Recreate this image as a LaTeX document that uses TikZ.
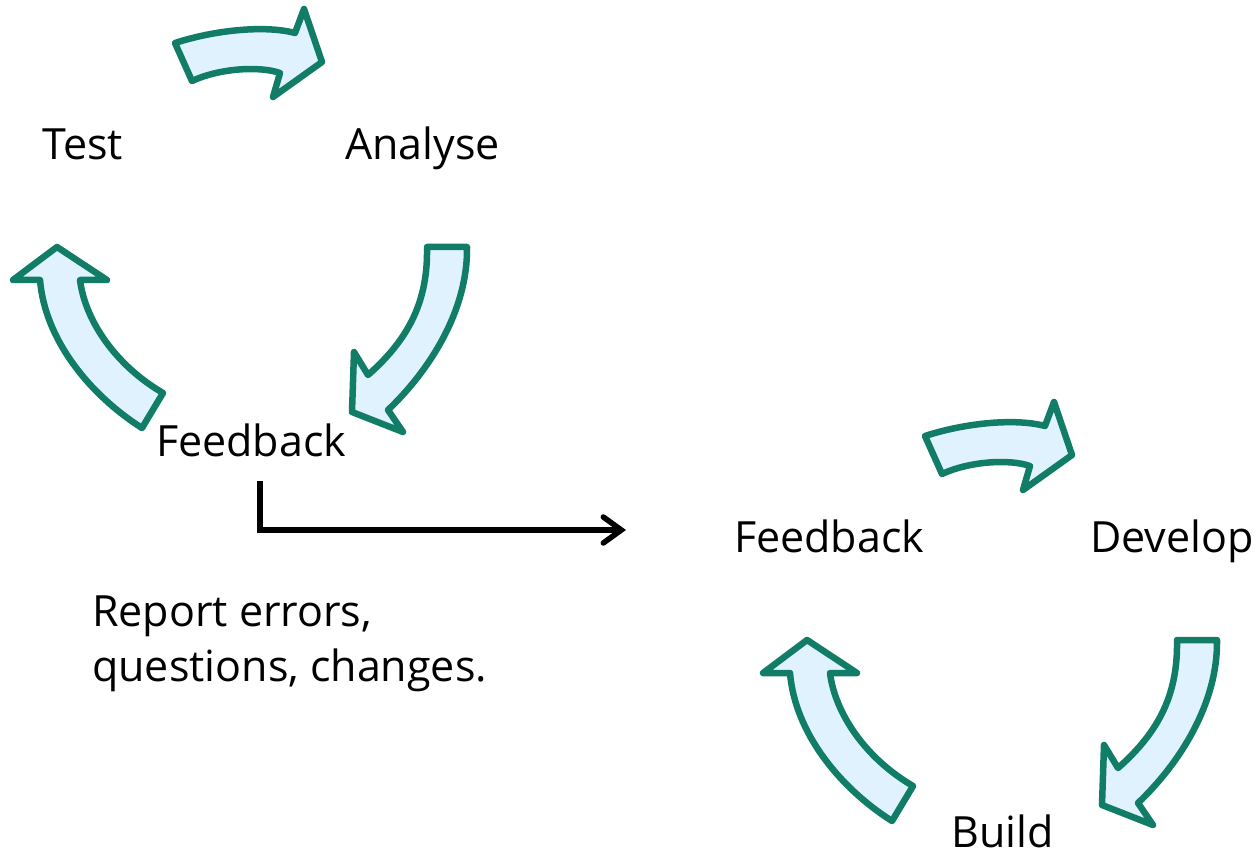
\documentclass[tikz,border=0pt]{standalone}
\usepackage{fontspec}
\setmainfont{Open Sans}
\usetikzlibrary{arrows.meta}
\definecolor{arrowline}{RGB}{18,125,102}
\definecolor{arrowfill}{RGB}{224,242,254}
\tikzset{
  blockarrow/.style={draw=arrowline, fill=arrowfill, line width=6.5pt, line join=round},
  lbl/.style={inner sep=0pt, anchor=base west, font=\fontsize{43}{55}\selectfont},
  note/.style={inner sep=0pt, anchor=base west, align=left, font=\fontsize{43}{55}\selectfont},
  flow/.style={line width=5.5pt, -{Straight Barb[length=18pt,width=26pt,line cap=round]}},
  cyclearrows/.pic={
    % top arrow
    \path[blockarrow] (175,43) .. controls (215,30) and (265,25) .. (295,33)
      -- (304,9) -- (322,62) -- (273,97) -- (280,73)
      .. controls (260,66) and (220,68) .. (192,81) -- cycle;
    % left arrow (upwards)
    \path[blockarrow] (142,428) .. controls (90,395) and (45,340) .. (40,280)
      -- (13,280) -- (57,247) -- (107,280) -- (80,280)
      .. controls (85,320) and (115,365) .. (163,393) -- cycle;
    % right arrow (downwards)
    \path[blockarrow] (427,247) -- (467,247)
      .. controls (468,310) and (430,370) .. (388,410)
      -- (403,432) -- (352,412) -- (354,352) -- (368,375)
      .. controls (410,338) and (428,300) .. (427,247) -- cycle;
  }
}
\begin{document}
\begin{tikzpicture}[x=1pt,y=-1pt]
\useasboundingbox (0,0) rectangle (1259,853);
\pic at (0,0) {cyclearrows};
\pic at (750,393) {cyclearrows};
\node[lbl] (test) at (42,160) {Test};
\node[lbl] (analyse) at (345,160) {Analyse};
\node[lbl] (fb1) at (156,456) {Feedback};
\node[lbl] (fb2) at (734,552) {Feedback};
\node[lbl] (develop) at (1090,552) {Develop};
\node[lbl] (build) at (951,847) {Build};
\node[note] (report) at (92,681) {Report errors,\\questions, changes.};
\coordinate (c1) at (260,481);
\coordinate (c2) at (626,530);
\draw[flow] (c1) |- (c2);
\end{tikzpicture}
\end{document}
